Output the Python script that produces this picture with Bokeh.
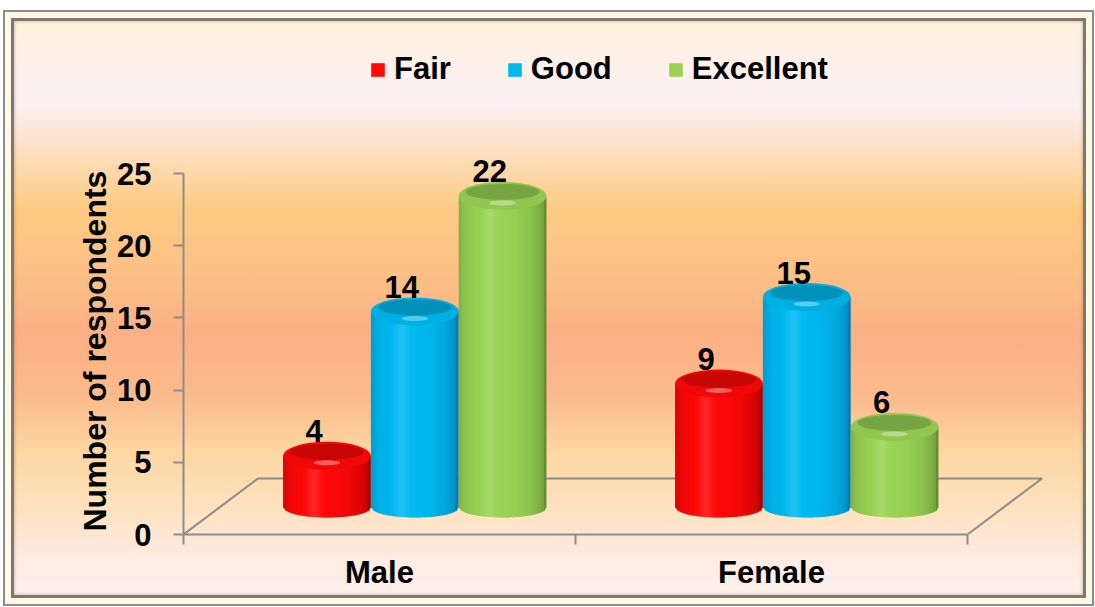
import numpy as np
from bokeh.plotting import figure
from bokeh.models import Range1d, FixedTicker, ColumnDataSource, Legend, LegendItem, Title
from bokeh.embed import file_html
from bokeh.resources import INLINE
from bokeh.core.properties import value

# ---------------- data ----------------
categories = ["Male", "Female"]
series = ["Fair", "Good", "Excellent"]
fair = [4, 9]
good = [14, 15]
excellent = [22, 6]
y_ticks = [0, 5, 10, 15, 20, 25]
y_label = "Number of respondents"

values = {"Fair": fair, "Good": good, "Excellent": excellent}

# ---------------- style ----------------
FONT = "Liberation Sans"
W, H = 1091, 596
BORDER_L, BORDER_B = 180, 72
PX_PER_Y = 361 / 25.0
Y_TOP = (H - BORDER_B) / PX_PER_Y
PX_PER_X = 392.0
X_END = (W - BORDER_L) / PX_PER_X

center_col = {"Fair": (255, 8, 8), "Good": (0, 186, 240), "Excellent": (154, 212, 86)}
edge_col = {"Fair": (150, 0, 0), "Good": (0, 112, 165), "Excellent": (88, 128, 44)}
AXIS_GRAY = "#8c8c8c"

BW = 0.224           # cylinder width (x data units)
DX, DY = 0.09, 1.87  # depth shift of cylinders
FLOOR_DX, FLOOR_DY = 0.19, 3.88
TOP_OFF = 1.45       # top-ellipse centre above value
TOP_B_PX = 14        # top ellipse semi-minor (px)
BOT_B_PX = 10        # bottom ellipse semi-minor (px)
LABEL_OFF = 2.38
LABEL_DX = -0.033
N_STRIPS = 36
OVL = 1.0 / PX_PER_X


def hexc(c):
    return "#%02x%02x%02x" % tuple(int(max(0, min(255, round(v)))) for v in c)


p = figure(width=W, height=H, output_backend="svg", toolbar_location=None,
           x_range=Range1d(0, X_END), y_range=Range1d(0, Y_TOP),
           min_border_left=BORDER_L, min_border_bottom=BORDER_B,
           min_border_top=0, min_border_right=0)
p.background_fill_color = None
p.border_fill_color = None
p.outline_line_color = None
p.xgrid.visible = False
p.ygrid.visible = False
p.styles = {
    "margin-left": "3px",
    "margin-top": "10px",
    "background": "linear-gradient(180deg, #FFF3DA 0%, #FEF0EA 9%, #FCEFF3 16%, "
                  "#FDDDB8 25%, #FDCB84 33%, #FCBC86 47%, #FBAF84 54%, #FBBB8C 65%, "
                  "#FDD6A2 74%, #FEE2C0 84%, #FEEBE2 92%, #FFF2EE 100%)",
    "box-shadow": "inset 0 0 0 2px #8c8c8c, inset 0 0 0 8px #FFF8E4, "
                  "inset 0 0 0 11px #7d776c, inset 0 0 3px 12px rgba(110,100,90,0.3)",
}

# ---------------- axes ----------------
ya = p.yaxis[0]
ya.ticker = FixedTicker(ticks=y_ticks)
ya.bounds = (y_ticks[0], y_ticks[-1])
ya.axis_line_color = AXIS_GRAY
ya.axis_line_width = 2
ya.major_tick_line_color = AXIS_GRAY
ya.major_tick_line_width = 2
ya.major_tick_out = 10
ya.major_tick_in = 0
ya.minor_tick_line_color = None
ya.major_label_standoff = 22
ya.major_label_text_font = FONT
ya.major_label_text_font_size = "31px"
ya.major_label_text_font_style = "bold"
ya.major_label_text_color = "black"

ytitle = Title(text=y_label, align="left", offset=3, standoff=3,
               text_font=FONT, text_font_size="32px", text_font_style="bold",
               text_color="black")
p.add_layout(ytitle, "left")

n_cat = len(categories)
xa = p.xaxis[0]
xa.ticker = FixedTicker(ticks=[i + 0.5 for i in range(n_cat)],
                        minor_ticks=list(range(n_cat + 1)))
xa.major_label_overrides = {i + 0.5: c for i, c in enumerate(categories)}
xa.bounds = (0, n_cat)
xa.axis_line_color = AXIS_GRAY
xa.axis_line_width = 2
xa.major_tick_line_color = None
xa.major_tick_out = 0
xa.major_tick_in = 0
xa.minor_tick_line_color = AXIS_GRAY
xa.minor_tick_line_width = 2
xa.minor_tick_out = 10
xa.minor_tick_in = 0
xa.major_label_standoff = 10
xa.major_label_text_font = FONT
xa.major_label_text_font_size = "31px"
xa.major_label_text_font_style = "bold"
xa.major_label_text_color = "black"

# ---------------- floor ----------------
p.multi_line(xs=[[0, FLOOR_DX, n_cat + FLOOR_DX, n_cat]],
             ys=[[0, FLOOR_DY, FLOOR_DY, 0]],
             line_color=AXIS_GRAY, line_width=2)

# ---------------- cylinders ----------------
bot_b = BOT_B_PX / PX_PER_Y
body = {s: dict(xs=[], ys=[], c=[]) for s in series}
top_x, top_y, top_col = [], [], []
rec_x, rec_y, rec_col = [], [], []
hl_x, hl_y = [], []
lab_x, lab_y, lab_t = [], [], []

for ci in range(n_cat):
    for si, s in enumerate(series):
        v = values[s][ci]
        cx = ci + 0.5 + DX + (si - 1) * BW
        top = v + TOP_OFF
        cc = np.array(center_col[s], float)
        ec = np.array(edge_col[s], float)
        for k in range(N_STRIPS):
            ul = 2 * k / N_STRIPS - 1
            ur = 2 * (k + 1) / N_STRIPS - 1
            um = (ul + ur) / 2
            th = np.arcsin(um)
            f = max(0.0, np.cos(th + 0.2)) ** 0.55
            col = ec + (cc - ec) * f
            col = col + (255 - col) * 0.12 * np.exp(-((um + 0.3) / 0.14) ** 2)
            xl = cx + ul * BW / 2
            xr = cx + ur * BW / 2 + (OVL if k < N_STRIPS - 1 else 0)
            ybl = DY - bot_b * np.sqrt(max(0.0, 1 - ul ** 2))
            ybr = DY - bot_b * np.sqrt(max(0.0, 1 - min(1.0, ur ** 2)))
            body[s]["xs"].append([xl, xr, xr, xl])
            body[s]["ys"].append([ybl, ybr, top, top])
            body[s]["c"].append(hexc(col))
        top_x.append(cx)
        top_y.append(top)
        top_col.append(hexc(cc * 0.94))
        rec_x.append(cx)
        rec_y.append(top + 4 / PX_PER_Y)
        rec_col.append(hexc(cc * 0.78))
        hl_x.append(cx)
        hl_y.append(top - 7 / PX_PER_Y)
        lab_x.append(cx + LABEL_DX)
        lab_y.append(v + LABEL_OFF)
        lab_t.append(str(v))

body_renderers = {}
for s in series:
    body_renderers[s] = p.patches(xs="xs", ys="ys", fill_color="c", line_color=None,
                                  source=ColumnDataSource(body[s]))

p.ellipse(x="x", y="y", width=BW, height=2 * TOP_B_PX, height_units="screen",
          fill_color="c", line_color=None,
          source=ColumnDataSource(dict(x=top_x, y=top_y, c=top_col)))
p.ellipse(x="x", y="y", width=BW * 0.84, height=16, height_units="screen",
          fill_color="c", line_color=None,
          source=ColumnDataSource(dict(x=rec_x, y=rec_y, c=rec_col)))
p.ellipse(x="x", y="y", width=BW * 0.3, height=5, height_units="screen",
          fill_color="white", fill_alpha=0.35, line_color=None,
          source=ColumnDataSource(dict(x=hl_x, y=hl_y)))

p.text(x="x", y="y", text="t", source=ColumnDataSource(dict(x=lab_x, y=lab_y, t=lab_t)),
       text_align="center", text_baseline="bottom",
       text_font=value(FONT), text_font_size="31px", text_font_style="bold",
       text_color="black")

# ---------------- legend ----------------
items = [LegendItem(label=s, renderers=[body_renderers[s]], index=N_STRIPS // 2)
         for s in series]
legend = Legend(items=items, orientation="horizontal", location=(186, 447),
                glyph_width=17, glyph_height=17, label_standoff=8, spacing=55,
                padding=0, margin=0, border_line_color=None,
                background_fill_alpha=0,
                label_text_font=FONT, label_text_font_size="31px",
                label_text_font_style="bold", label_text_color="black")
p.add_layout(legend, "center")

open("out.html", "w").write(file_html(p, INLINE))
